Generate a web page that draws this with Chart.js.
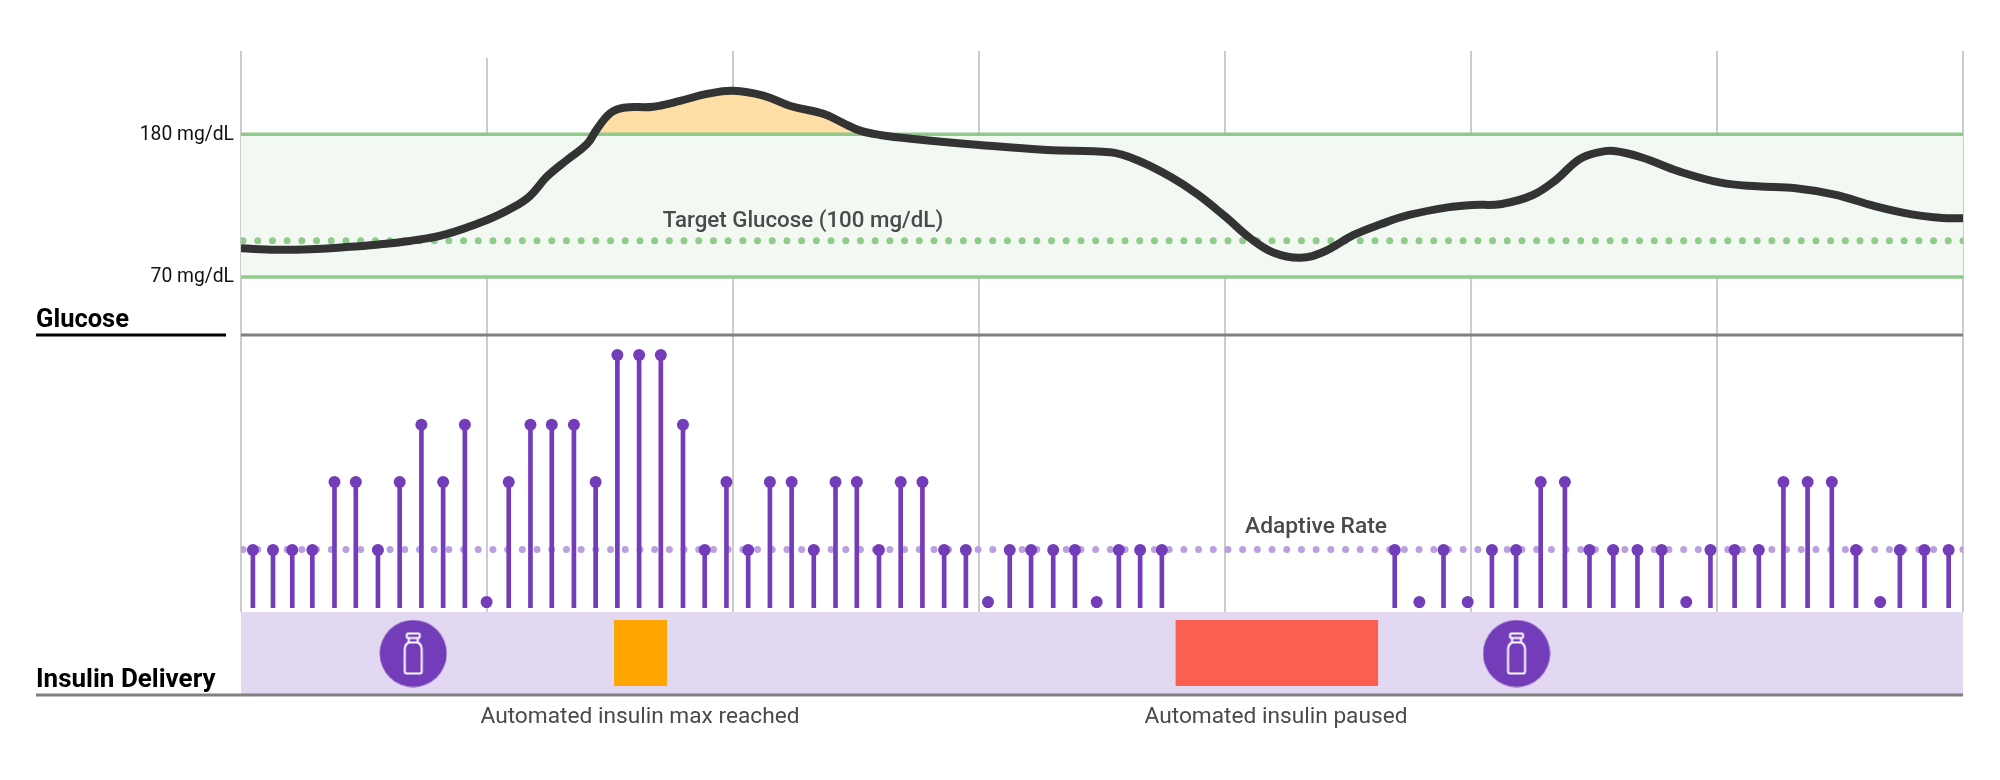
<!DOCTYPE html>
<html>
<head>
<meta charset="utf-8">
<title>Glucose and insulin delivery</title>
<script src="https://cdn.jsdelivr.net/npm/chart.js@4"></script>
<style>
    html, body { margin: 0; background: #fff; }
    #chart { display: block; }
</style>
</head>
<body>
<canvas id="chart" width="2000" height="780"></canvas>
<script>
// x values are minutes, one grid step is an hour
const gridMinutes = [0, 60, 120, 180, 240, 300, 360, 420];

const glucoseMinutes = [0, 8.7, 16.8, 25, 33.1, 41.2, 49.4, 60, 66.4, 70.5, 74.6, 79.5, 84.4, 86.8, 90, 93.3, 100.6, 107.1, 113.6, 120.1, 127.4, 134, 142.1, 147, 151, 155.9, 164, 180.1, 196.6, 212, 218.5, 226.7, 233.2, 240.1, 246.2, 251.9, 258.4, 264.1, 271.4, 277.9, 284.9, 294.3, 300.4, 307.5, 315.1, 320.7, 326.4, 331.1, 334.9, 341.5, 350.9, 360.9, 369.8, 379.2, 388.7, 398.1, 407.5, 415, 420];
const glucoseValues = [92.1, 91, 91.4, 92.9, 94.9, 97.8, 102.4, 113.9, 123.7, 132.5, 147.3, 160.2, 172.5, 183.9, 196.2, 200.5, 201.3, 205.7, 211.1, 213.6, 209.8, 201.8, 195.7, 188.5, 182.8, 179.5, 176.4, 171.8, 167.9, 166.1, 160.2, 147.3, 134, 116.5, 99.8, 88.7, 84.9, 89.5, 102.4, 110.6, 117.8, 123.7, 125.5, 126.3, 133.2, 144.8, 160.7, 166.1, 167.1, 162.3, 151.2, 142.7, 139.9, 138.4, 133.5, 125, 118.3, 115.5, 115.3];

const rangeHigh = 180;
const rangeLow = 70;
const targetLine = 98; // labelled 100, sits slightly lower in the picture

const doseMinutes = [2.9, 7.8, 12.5, 17.4, 22.8, 28, 33.4, 38.7, 44, 49.3, 54.6, 59.9, 65.3, 70.6, 75.8, 81.2, 86.5, 91.8, 97.1, 102.4, 107.8, 113.1, 118.4, 123.7, 129, 134.3, 139.7, 145, 150.2, 155.6, 160.9, 166.2, 171.5, 176.8, 182.2, 187.5, 192.7, 198.1, 203.4, 208.7, 214.1, 219.3, 224.6, 281.4, 287.4, 293.3, 299.2, 305.1, 311, 317, 322.9, 328.9, 334.7, 340.6, 346.5, 352.5, 358.4, 364.3, 370.2, 376.2, 382.1, 388, 393.9, 399.8, 404.6, 410.6, 416.5];
const doseValues = [1, 1, 1, 1, 2.18, 2.18, 1, 2.18, 3.17, 2.18, 3.17, 0.1, 2.18, 3.17, 3.17, 3.17, 2.18, 4.38, 4.38, 4.38, 3.17, 1, 2.18, 1, 2.18, 2.18, 1, 2.18, 2.18, 1, 2.18, 2.18, 1, 1, 0.1, 1, 1, 1, 1, 0.1, 1, 1, 1, 1, 0.1, 1, 0.1, 1, 1, 2.18, 2.18, 1, 1, 1, 1, 0.1, 1, 1, 1, 2.18, 2.18, 2.18, 1, 0.1, 1, 1, 1];
const adaptiveRate = 1.01;

const stripTop = 0.904;
const stripBottom = 0.108;
const maxReached = [91, 103.9];
const paused = [227.9, 277.4];
const refills = [42, 311.1];

const FONT = 'Roboto, "Noto Sans", sans-serif';

function pairUp(xs, ys) {
    return xs.map((x, i) => ({ x: x, y: ys[i] }));
}

function flatLine(from, to, y) {
    return [{ x: from, y: y }, { x: to, y: y }];
}

function makeRefillIcon() {
    const c = document.createElement('canvas');
    c.width = 68;
    c.height = 68;
    const g = c.getContext('2d');
    g.fillStyle = '#733cb9';
    g.beginPath();
    g.arc(34, 34, 33.5, 0, Math.PI * 2);
    g.fill();
    g.strokeStyle = '#fff';
    g.lineWidth = 2;
    g.lineJoin = 'round';
    g.beginPath();
    g.roundRect(27.5, 14, 13, 4.5, 1.5);
    g.moveTo(29.5, 18.5);
    g.lineTo(29.5, 23);
    g.quadraticCurveTo(25.5, 25, 25.5, 30);
    g.lineTo(25.5, 52);
    g.quadraticCurveTo(25.5, 54, 27.5, 54);
    g.lineTo(40.5, 54);
    g.quadraticCurveTo(42.5, 54, 42.5, 52);
    g.lineTo(42.5, 30);
    g.quadraticCurveTo(42.5, 25, 38.5, 23);
    g.lineTo(38.5, 18.5);
    g.moveTo(29.5, 23);
    g.lineTo(38.5, 23);
    g.stroke();
    return c;
}

function drawText(ctx, text, x, y, font, color, align) {
    ctx.font = font;
    ctx.fillStyle = color;
    ctx.textAlign = align || 'left';
    ctx.textBaseline = 'middle';
    ctx.fillText(text, x, y);
}

// grid goes under everything, second line starts a little lower in the reference
const gridPlugin = {
    id: 'gridBehind',
    beforeDraw(chart) {
        const { ctx, scales } = chart;
        ctx.save();
        ctx.strokeStyle = '#cccccc';
        ctx.lineWidth = 2;
        gridMinutes.forEach((m) => {
            const x = scales.x.getPixelForValue(m);
            ctx.beginPath();
            ctx.moveTo(x, chart.chartArea.top + (m === 60 ? 7 : 0));
            ctx.lineTo(x, scales.yS.top);
            ctx.stroke();
        });
        ctx.restore();
    }
};

const labelPlugin = {
    id: 'labels',
    afterDatasetsDraw(chart) {
        const { ctx, scales, chartArea } = chart;
        ctx.save();

        ctx.fillStyle = '#808080';
        ctx.fillRect(chartArea.left, scales.yG.bottom - 1.5, chartArea.right - chartArea.left, 3);
        ctx.fillRect(36, scales.yS.bottom - 1.5, chartArea.right - 36, 3);
        ctx.fillStyle = '#000';
        ctx.fillRect(36, scales.yG.bottom - 1.5, 190, 3);

        drawText(ctx, 'Glucose', 36, 321, 'bold 25.5px ' + FONT, '#000');
        drawText(ctx, 'Insulin Delivery', 36, 680.5, 'bold 26px ' + FONT, '#000');
        drawText(ctx, 'Target Glucose (100 mg/dL)', 803, 221.5, '500 22.3px ' + FONT, '#4a4a4a', 'center');
        drawText(ctx, 'Adaptive Rate', 1316, 527.5, '500 22.8px ' + FONT, '#4a4a4a', 'center');
        drawText(ctx, 'Automated insulin max reached', 640, 717.5, '22.7px ' + FONT, '#4a4a4a', 'center');
        drawText(ctx, 'Automated insulin paused', 1276, 717.5, '22.7px ' + FONT, '#4a4a4a', 'center');
        ctx.restore();
    }
};

const purple = '#733cb9';
const green = '#90cb8c';

function fixedWidth(scale) {
    scale.width = 241;
}

new Chart(document.getElementById('chart'), {
    type: 'line',
    data: {
        datasets: [
            // glucose panel
            { data: pairUp(glucoseMinutes, glucoseValues), yAxisID: 'yG', order: 1, borderColor: '#333333', borderWidth: 8, pointRadius: 0, tension: 0.4 },
            { data: flatLine(0.5, 420, targetLine), yAxisID: 'yG', order: 2, borderColor: green, borderWidth: 7, borderDash: [0, 14.7], borderCapStyle: 'round', pointRadius: 0 },
            { data: flatLine(0, 420, rangeHigh), yAxisID: 'yG', order: 3, borderColor: green, borderWidth: 3.5, pointRadius: 0 },
            { data: flatLine(0, 420, rangeLow), yAxisID: 'yG', order: 3, borderColor: green, borderWidth: 3.5, pointRadius: 0 },
            { data: pairUp(glucoseMinutes, glucoseValues), yAxisID: 'yG', order: 4, borderWidth: 0, pointRadius: 0, tension: 0.4, fill: { target: { value: rangeHigh }, above: '#ffdfa6', below: 'rgba(0,0,0,0)' } },
            { data: flatLine(0, 420, rangeHigh), yAxisID: 'yG', order: 5, borderWidth: 0, pointRadius: 0, fill: { target: { value: rangeLow }, above: '#f2f9f3', below: '#f2f9f3' } },

            // insulin panel
            { data: pairUp(doseMinutes, doseValues), yAxisID: 'yI', order: 6, showLine: false, pointRadius: 6, pointBackgroundColor: purple, pointBorderWidth: 0 },
            { type: 'bar', data: pairUp(doseMinutes, doseValues), yAxisID: 'yI', order: 7, backgroundColor: purple, barThickness: 4 },
            { data: flatLine(0.5, 420, adaptiveRate), yAxisID: 'yI', order: 8, borderColor: '#bba0e0', borderWidth: 7, borderDash: [0, 14.7], borderCapStyle: 'round', pointRadius: 0 },

            // delivery strip
            { data: refills.map((m) => ({ x: m, y: 0.5 })), yAxisID: 'yS', order: 9, showLine: false, pointRadius: 34, pointStyle: makeRefillIcon() },
            { data: flatLine(maxReached[0], maxReached[1], stripTop), yAxisID: 'yS', order: 10, borderWidth: 0, pointRadius: 0, fill: { target: { value: stripBottom }, above: '#ffa500', below: '#ffa500' } },
            { data: flatLine(paused[0], paused[1], stripTop), yAxisID: 'yS', order: 10, borderWidth: 0, pointRadius: 0, fill: { target: { value: stripBottom }, above: '#fa5f4f', below: '#fa5f4f' } },
            { data: flatLine(0, 420, 1), yAxisID: 'yS', order: 11, borderWidth: 0, pointRadius: 0, fill: { target: { value: 0 }, above: '#e2d8f1', below: '#e2d8f1' } }
        ]
    },
    options: {
        responsive: false,
        animation: false,
        events: [],
        layout: { padding: { top: 51, right: 37, bottom: 85, left: 0 } },
        plugins: {
            legend: { display: false },
            tooltip: { enabled: false },
            filler: { drawTime: 'beforeDatasetsDraw' }
        },
        scales: {
            x: { type: 'linear', min: 0, max: 420, offset: false, display: false, grid: { offset: false } },
            // the stack is placed last key first, so the strip comes first here
            yS: { type: 'linear', position: 'left', stack: 'panels', stackWeight: 83, min: 0, max: 1, display: false, afterFit: fixedWidth },
            yI: { type: 'linear', position: 'left', stack: 'panels', stackWeight: 277, min: -0.075, max: 4.726, display: false, afterFit: fixedWidth },
            yG: {
                type: 'linear', position: 'left', stack: 'panels', stackWeight: 284, min: 25.3, max: 244.2,
                grid: { display: false, drawTicks: false },
                border: { display: false },
                afterBuildTicks(scale) { scale.ticks = [{ value: rangeHigh }, { value: rangeLow }]; },
                afterFit: fixedWidth,
                ticks: {
                    autoSkip: false,
                    padding: 7,
                    labelOffset: 0.5,
                    color: '#111',
                    font: { family: FONT, size: 19.3 },
                    callback: (v) => v + ' mg/dL'
                }
            }
        }
    },
    plugins: [gridPlugin, labelPlugin]
});
</script>
</body>
</html>
